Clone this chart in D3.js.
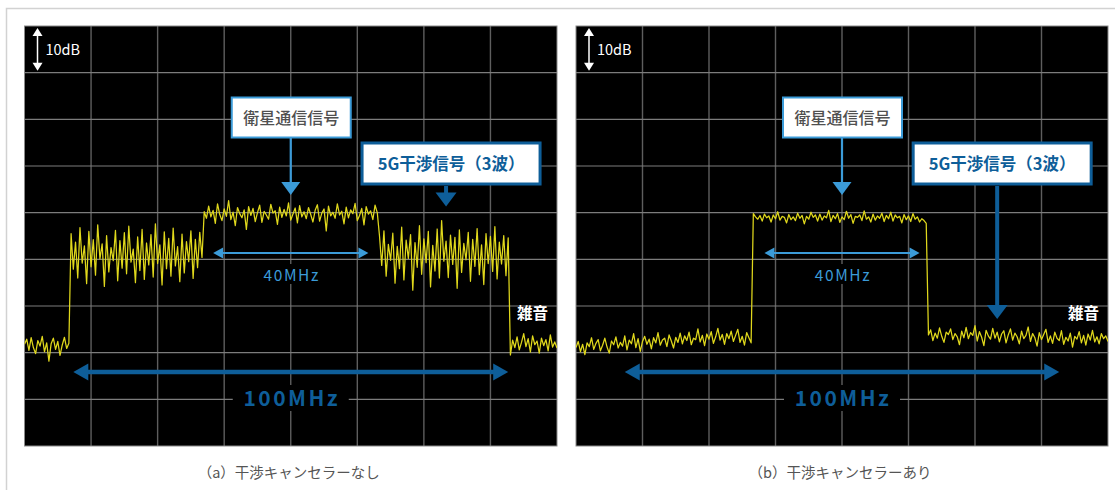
<!DOCTYPE html>
<html><head><meta charset="utf-8">
<script src="https://cdn.jsdelivr.net/npm/d3@7"></script>
<style>html,body{margin:0;padding:0;background:#fff;} svg{display:block;}</style>
</head><body>
<svg id="chart" width="1115" height="490"></svg>
<script>
// Spectrum traces, one sample every 0.5 MHz from -60 MHz to +60 MHz (levels in dB)
const FREQ_START = -60, FREQ_STEP = 0.5;
const freqTicks = [-60, -45, -30, -15, 0, 15, 30, 45, 60];
const levelTicks = [0, -10, -20, -30, -40, -50, -60, -70, -80, -90];

// (a) without canceller
const aNoiseLow = [-68.2,-67.1,-69.5,-66.8,-68.9,-70.2,-67.4,-68.6,-66.5,-69.8,-67.9,-71.8,-68.1,-66.9,-69.3,-67.6,-70.6,-68.4,-66.7,-69.1,-68.0];
const aInterfLow = [
  -44.5,-52.1,-46.3,-54.0,-43.2,-50.8,-47.1,-55.2,-44.0,-51.6,
  -45.8,-53.4,-42.6,-49.9,-46.7,-55.8,-44.9,-52.7,-47.5,-50.3,
  -43.8,-54.6,-46.0,-51.9,-44.3,-53.1,-42.9,-50.6,-47.8,-55.0,
  -45.2,-52.4,-43.6,-54.3,-46.5,-51.2,-44.7,-53.8,-42.4,-50.9,
  -46.9,-55.5,-44.1,-52.0,-45.5,-53.6,-43.3,-51.4,-47.3,-54.8,
  -44.6,-52.9,-46.2,-50.5,-43.9,-54.1,-45.7,-51.8,-44.2,-49.6];
const aSatellite = [
  -39.8,-41.2,-38.6,-40.9,-39.5,-42.3,-38.1,-40.4,-41.7,-39.2,
  -40.8,-37.4,-41.5,-39.9,-42.8,-38.9,-40.2,-41.1,-39.4,-43.6,
  -38.7,-40.6,-39.1,-41.9,-40.0,-38.4,-42.1,-39.7,-40.5,-41.4,
  -38.2,-40.1,-39.6,-42.5,-38.8,-41.0,-39.3,-40.7,-37.9,-41.6,
  -40.3,-39.0,-42.2,-38.5,-40.9,-39.8,-41.3,-38.9,-40.4,-42.0,
  -39.5,-38.3,-41.8,-40.1,-39.2,-43.9,-38.6,-40.7,-39.9,-41.2,
  -38.1,-40.5,-39.7,-42.4,-38.8,-41.1,-39.4,-40.2,-38.0,-41.7,
  -40.6,-39.1,-42.6,-38.7,-40.3,-39.6,-41.5,-38.4,-40.0];
const aInterfHigh = [
  -45.0,-51.3,-43.9,-53.6,-46.8,-50.2,-44.4,-55.1,-47.2,-52.0,
  -43.1,-54.4,-45.9,-49.8,-44.7,-56.6,-46.4,-51.7,-42.8,-53.2,
  -45.6,-50.7,-44.0,-55.9,-47.0,-52.5,-43.5,-54.0,-41.7,-50.4,
  -46.1,-53.9,-44.8,-51.1,-45.3,-56.2,-43.7,-52.8,-46.6,-50.1,
  -44.2,-54.7,-45.7,-51.5,-43.4,-53.3,-46.9,-55.4,-44.5,-50.9,
  -45.1,-52.6,-43.0,-54.2,-46.3,-51.0,-44.9,-53.5,-45.4];
const aNoiseHigh = [-70.5,-67.3,-68.9,-66.6,-69.4,-67.8,-65.9,-68.7,-67.0,-69.9,-66.4,-68.3,-67.5,-70.1,-66.9,-68.5,-67.2,-69.6,-66.2,-68.8,-67.7,-69.0];

// (b) with canceller
const bNoiseLow = [
  -68.9,-67.6,-69.8,-68.2,-70.4,-67.9,-68.7,-66.8,-69.3,-68.0,
  -67.2,-69.6,-68.4,-66.9,-68.8,-70.1,-67.5,-68.3,-66.6,-69.0,
  -67.8,-68.6,-66.4,-69.4,-67.3,-68.1,-65.9,-68.9,-67.0,-69.7,
  -67.6,-66.5,-68.2,-67.1,-69.2,-66.8,-67.9,-65.7,-68.4,-67.3,
  -66.9,-68.7,-66.2,-67.5,-69.0,-66.7,-67.8,-65.8,-68.1,-66.4,
  -67.4,-65.6,-68.3,-66.9,-67.2,-64.9,-67.7,-66.3,-68.5,-66.0,
  -67.1,-65.5,-68.0,-66.6,-64.8,-67.3,-66.1,-68.2,-65.9,-67.0,
  -65.4,-67.6,-66.3,-65.0,-67.8,-66.5,-68.4,-65.7,-66.8,-67.9];
const bSatellite = [
  -40.2,-40.9,-41.4,-40.6,-41.8,-40.3,-41.1,-40.7,-42.0,-40.5,
  -41.3,-39.8,-41.6,-40.8,-41.0,-42.2,-40.4,-41.5,-40.9,-41.7,
  -40.1,-41.2,-40.6,-42.4,-40.8,-41.4,-39.9,-41.0,-40.5,-41.8,
  -40.3,-41.6,-40.7,-41.1,-39.5,-41.9,-40.6,-41.3,-40.2,-42.1,
  -40.9,-41.5,-39.7,-41.2,-40.4,-42.3,-40.8,-41.0,-40.5,-41.7,
  -39.6,-41.4,-40.9,-42.0,-40.3,-41.6,-40.7,-41.2,-40.1,-41.9,
  -40.6,-41.3,-39.9,-41.8,-40.5,-41.1,-40.8,-42.2,-40.4,-41.5,
  -40.7,-41.9,-40.2,-41.4,-40.9,-42.0,-41.3,-41.7,-42.3];
const bNoiseHigh = [
  -66.2,-65.1,-67.4,-65.8,-66.9,-64.7,-66.5,-67.8,-65.6,-66.1,
  -64.9,-67.2,-65.9,-66.6,-68.3,-65.4,-66.8,-64.6,-67.0,-65.7,
  -66.3,-64.2,-67.5,-65.5,-66.7,-68.5,-65.2,-66.4,-67.1,-64.8,
  -66.9,-65.6,-67.7,-66.0,-65.3,-67.9,-66.2,-64.9,-67.3,-65.8,
  -66.6,-68.1,-65.4,-67.0,-66.3,-64.5,-67.6,-65.9,-66.8,-68.6,
  -65.7,-67.2,-66.1,-65.0,-67.8,-66.4,-68.0,-65.6,-66.9,-67.4,
  -65.3,-68.2,-66.7,-67.5,-65.8,-68.8,-66.5,-67.1,-65.5,-67.9,
  -66.3,-68.4,-66.0,-67.3,-65.2,-67.7,-66.6,-68.1,-65.9,-67.0,
  -66.4,-67.6];

// Annotation anchors (MHz)
const satelliteSpan = [-17.5, 17.5];
const fullSpan = [-49, 49];
const interferenceMarkFreq = 35;
const captions = ["（a）干渉キャンセラーなし", "（b）干渉キャンセラーあり"];

const panels = [
  { left: 24.5, right: 557, trace: [].concat(aNoiseLow, aInterfLow, aSatellite, aInterfHigh, aNoiseHigh), arrowTipLevel: -38.7, caption: captions[0] },
  { left: 576,  right: 1108, trace: [].concat(bNoiseLow, bSatellite, bNoiseHigh), arrowTipLevel: -62.8, caption: captions[1] }
];

const FONT = "'Noto Sans CJK JP','Noto Sans',sans-serif";
const LIGHT_BLUE = "#3b9bd8", DARK_BLUE = "#0e5e99", TRACE = "#e0d81c";
const TOP = 26, BOTTOM = 446;

const svg = d3.select("#chart");
svg.append("rect").attr("width", 1115).attr("height", 490).attr("fill", "#fff");
// outer frame
svg.append("path").attr("d", "M6.5,490V8.5H1115").attr("fill", "none").attr("stroke", "#d2d2d2").attr("stroke-width", 1.5);

function tri(g, pts, fill) {
  g.append("path").attr("d", "M" + pts.map(p => p.join(",")).join("L") + "Z").attr("fill", fill);
}
function hDoubleArrow(g, x1, x2, yy, color, w, hl, hw) {
  g.append("line").attr("x1", x1 + hl - 1).attr("x2", x2 - hl + 1).attr("y1", yy).attr("y2", yy)
    .attr("stroke", color).attr("stroke-width", w);
  tri(g, [[x1, yy], [x1 + hl, yy - hw], [x1 + hl, yy + hw]], color);
  tri(g, [[x2, yy], [x2 - hl, yy - hw], [x2 - hl, yy + hw]], color);
}
function downArrow(g, xx, y1, y2, color, w, hl, hw) {
  g.append("line").attr("x1", xx).attr("x2", xx).attr("y1", y1).attr("y2", y2 - hl + 1)
    .attr("stroke", color).attr("stroke-width", w);
  tri(g, [[xx, y2], [xx - hw, y2 - hl], [xx + hw, y2 - hl]], color);
}

panels.forEach((p, k) => {
  const x = d3.scaleLinear().domain([-60, 60]).range([p.left, p.right]);
  const y = d3.scaleLinear().domain([0, -90]).range([TOP, BOTTOM]);
  const g = svg.append("g");

  g.append("rect").attr("x", p.left).attr("y", TOP).attr("width", p.right - p.left).attr("height", BOTTOM - TOP)
    .attr("fill", "#000");

  // graticule
  g.append("g").selectAll("line").data(freqTicks.slice(1, -1)).join("line")
    .attr("x1", d => x(d)).attr("x2", d => x(d)).attr("y1", TOP).attr("y2", BOTTOM)
    .attr("stroke", "#5e5e5e").attr("stroke-width", 1.4);
  g.append("g").selectAll("line").data(levelTicks.slice(1, -1)).join("line")
    .attr("x1", p.left).attr("x2", p.right).attr("y1", d => y(d)).attr("y2", d => y(d))
    .attr("stroke", "#7c7c7c").attr("stroke-width", 1.2);
  g.append("rect").attr("x", p.left).attr("y", TOP).attr("width", p.right - p.left).attr("height", BOTTOM - TOP)
    .attr("fill", "none").attr("stroke", "#8a8a8a").attr("stroke-width", 1);

  // 10 dB scale marker
  const mx = p.left + 13;
  g.append("line").attr("x1", mx).attr("x2", mx).attr("y1", y(0) + 6).attr("y2", y(-10) - 6)
    .attr("stroke", "#fff").attr("stroke-width", 1.5);
  tri(g, [[mx, y(0) + 2], [mx - 5, y(0) + 10], [mx + 5, y(0) + 10]], "#fff");
  tri(g, [[mx, y(-10) - 2], [mx - 5, y(-10) - 10], [mx + 5, y(-10) - 10]], "#fff");
  g.append("text").attr("x", mx + 8).attr("y", 54.5).attr("fill", "#fff").attr("font-family", FONT)
    .attr("font-size", 14.5).text("10dB");

  // trace
  const clipId = "clip" + k;
  svg.append("clipPath").attr("id", clipId).append("rect")
    .attr("x", p.left).attr("y", TOP).attr("width", p.right - p.left).attr("height", BOTTOM - TOP);
  const line = d3.line().x((d, i) => x(FREQ_START + i * FREQ_STEP)).y(d => y(d));
  g.append("path").datum(p.trace).attr("clip-path", `url(#${clipId})`).attr("d", line)
    .attr("fill", "none").attr("stroke", TRACE).attr("stroke-width", 1.25).attr("stroke-linejoin", "round");

  // 40 MHz span
  const lx1 = x(satelliteSpan[0]), lx2 = x(satelliteSpan[1]);
  hDoubleArrow(g, lx1, lx2, 253, LIGHT_BLUE, 2, 10, 5.5);
  g.append("rect").attr("x", x(0) - 30).attr("y", 264).attr("width", 60).attr("height", 20).attr("fill", "#000");
  g.append("text").attr("x", x(0) + 1).attr("y", 280.5).attr("text-anchor", "middle").attr("fill", LIGHT_BLUE)
    .attr("font-family", FONT).attr("font-size", 15.5).attr("letter-spacing", 1.6).text("40MHz");

  // 100 MHz span
  hDoubleArrow(g, x(fullSpan[0]), x(fullSpan[1]), 372, DARK_BLUE, 4.5, 15, 8.5);
  g.append("rect").attr("x", x(0) - 58).attr("y", 385).attr("width", 116).attr("height", 26).attr("fill", "#000");
  g.append("text").attr("x", x(0) + 1).attr("y", 406).attr("text-anchor", "middle").attr("fill", DARK_BLUE)
    .attr("font-family", FONT).attr("font-size", 21).attr("font-weight", 700).attr("letter-spacing", 2.5).text("100MHz");

  // noise label
  g.append("text").attr("x", p.right - 9).attr("y", 318.5).attr("text-anchor", "end").attr("fill", "#fff")
    .attr("font-family", FONT).attr("font-size", 15.5).attr("font-weight", 700).text("雑音");

  // satellite signal callout
  const sx = x(0);
  downArrow(g, sx, 138, 195, LIGHT_BLUE, 2.2, 13, 9.5);
  g.append("rect").attr("x", sx - 59).attr("y", 97.5).attr("width", 119).attr("height", 40)
    .attr("fill", "#fff").attr("stroke", LIGHT_BLUE).attr("stroke-width", 2);
  g.append("text").attr("x", sx + 0.5).attr("y", 123.5).attr("text-anchor", "middle").attr("fill", "#505050")
    .attr("font-family", FONT).attr("font-size", 16).attr("font-weight", 500).text("衛星通信信号");

  // interference callout
  const ix = x(interferenceMarkFreq);
  downArrow(g, ix, 186, y(p.arrowTipLevel), DARK_BLUE, 4, 14, 10.5);
  g.append("rect").attr("x", ix - 84).attr("y", 143).attr("width", 178).attr("height", 41)
    .attr("fill", "#fff").attr("stroke", DARK_BLUE).attr("stroke-width", 3);
  g.append("text").attr("x", ix + 5).attr("y", 170).attr("text-anchor", "middle").attr("fill", DARK_BLUE)
    .attr("font-family", FONT).attr("font-size", 16.5).attr("font-weight", 700).text("5G干渉信号（3波）");

  // caption
  svg.append("text").attr("x", x(0) - 2).attr("y", 478).attr("text-anchor", "middle").attr("fill", "#555")
    .attr("font-family", FONT).attr("font-size", 14.5).text(p.caption);
});
</script>
</body></html>
